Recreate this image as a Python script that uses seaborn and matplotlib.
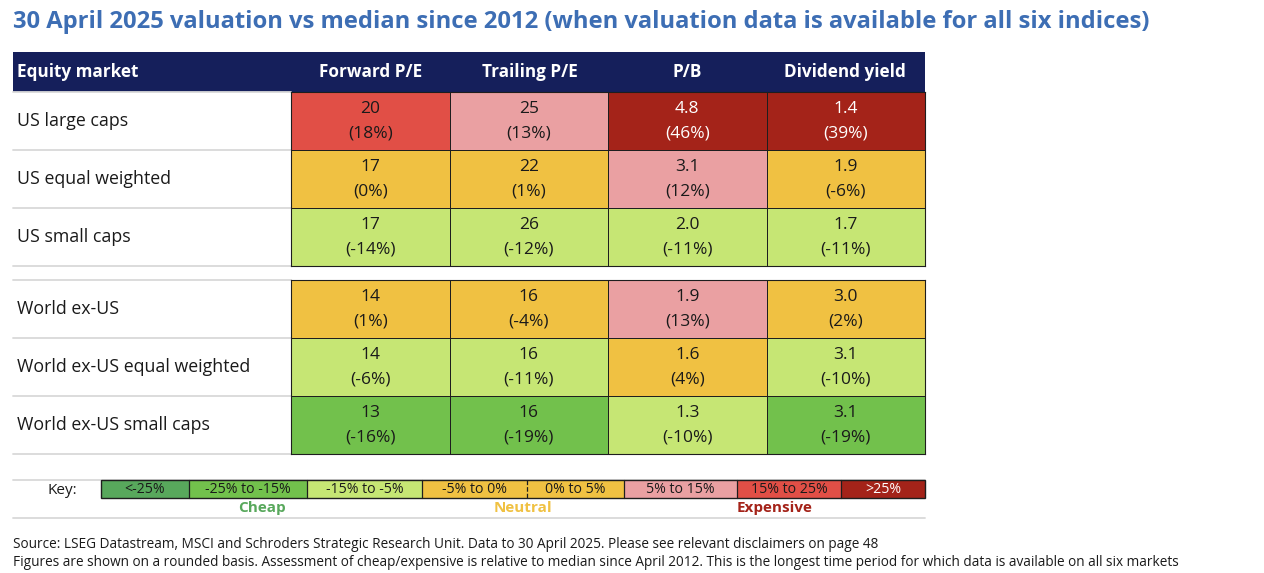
import numpy as np
import matplotlib
matplotlib.use("Agg")
import matplotlib.pyplot as plt
import seaborn as sns
from matplotlib.colors import ListedColormap
from matplotlib.patches import Rectangle

sns.set_theme(style="white")
plt.rcParams['font.family'] = ['Open Sans', 'DejaVu Sans']

# ---------------- data ----------------
title = "30 April 2025 valuation vs median since 2012 (when valuation data is available for all six indices)"
header_first = "Equity market"
metrics = ["Forward P/E", "Trailing P/E", "P/B", "Dividend yield"]

us_markets = ["US large caps", "US equal weighted", "US small caps"]
us_values = [["20", "25", "4.8", "1.4"],
             ["17", "22", "3.1", "1.9"],
             ["17", "26", "2.0", "1.7"]]
us_pct = [[18, 13, 46, 39],
          [0, 1, 12, -6],
          [-14, -12, -11, -11]]
us_band = [[6, 5, 7, 7],
           [4, 4, 5, 3],
           [2, 2, 2, 2]]

world_markets = ["World ex-US", "World ex-US equal weighted", "World ex-US small caps"]
world_values = [["14", "16", "1.9", "3.0"],
                ["14", "16", "1.6", "3.1"],
                ["13", "16", "1.3", "3.1"]]
world_pct = [[1, -4, 13, 2],
             [-6, -11, 4, -10],
             [-16, -19, -10, -19]]
world_band = [[4, 3, 5, 4],
              [2, 2, 4, 2],
              [1, 1, 2, 1]]

key_labels = ["<-25%", "-25% to -15%", "-15% to -5%", "-5% to 0%",
              "0% to 5%", "5% to 15%", "15% to 25%", ">25%"]
band_colors = ["#58a85c", "#72c14c", "#c6e674", "#f0c142",
               "#f0c142", "#eaa0a2", "#e14f46", "#a42319"]
groups = ["Cheap", "Neutral", "Expensive"]
group_colors = ["#58a85c", "#f0c142", "#a42319"]
source_lines = [
    "Source: LSEG Datastream, MSCI and Schroders Strategic Research Unit. Data to 30 April 2025. Please see relevant disclaimers on page 48",
    "Figures are shown on a rounded basis. Assessment of cheap/expensive is relative to median since April 2012. This is the longest time period for which data is available on all six markets",
]

# ---------------- layout ----------------
W, H = 1264, 573
fig = plt.figure(figsize=(W / 100, H / 100), dpi=100)
ov = fig.add_axes([0, 0, 1, 1])
ov.set_xlim(0, W)
ov.set_ylim(H, 0)
ov.axis("off")

TXT = "#1a1a1a"
NAVY = "#151f5b"
GREY = "#d9d9d9"
EDGE = "#1e1e1e"

def px_axes(x0, y0, x1, y1):
    return fig.add_axes([x0 / W, 1 - y1 / H, (x1 - x0) / W, (y1 - y0) / H])

# title
ov.text(13, 22, title, fontsize=17.1, fontweight="bold", color="#3d6eb4",
        ha="left", va="center")

# header
tab_x0, tab_x1 = 13, 925
col_edges = [291, 451, 609, 765, 925]
ov.add_patch(Rectangle((tab_x0, 52), tab_x1 - tab_x0, 40, color=NAVY, lw=0))
ov.text(17, 72, header_first, fontsize=12.3, fontweight="bold", color="white",
        ha="left", va="center")
for i, m in enumerate(metrics):
    cx = (col_edges[i] + col_edges[i + 1]) / 2
    ov.text(cx, 72, m, fontsize=12.3, fontweight="bold", color="white",
            ha="center", va="center")

# row labels and separators
blocks = [(us_markets, us_values, us_pct, us_band, 92),
          (world_markets, world_values, world_pct, world_band, 280)]
row_h = 58
for markets, values, pct, band, top in blocks:
    ov.plot([tab_x0, col_edges[0]], [top, top], color=GREY, lw=1.3)
    for r, name in enumerate(markets):
        yc = top + row_h * r + row_h / 2
        ov.text(17, yc, name, fontsize=12.8, color=TXT, ha="left", va="center")
        yb = top + row_h * (r + 1)
        ov.plot([tab_x0, col_edges[0]], [yb, yb], color=GREY, lw=1.3)

    ax = px_axes(col_edges[0], top, col_edges[-1], top + row_h * len(markets))
    annot = np.array([[f"{v}\n({p}%)" for v, p in zip(vr, pr)]
                      for vr, pr in zip(values, pct)])
    sns.heatmap(np.array(band), ax=ax, cmap=ListedColormap(band_colors),
                vmin=-0.5, vmax=7.5, annot=annot, fmt="", cbar=False,
                linewidths=0.7, linecolor=EDGE,
                annot_kws=dict(fontsize=12.5, linespacing=1.72, color=TXT),
                xticklabels=False, yticklabels=False)
    for t, b in zip(ax.texts, np.array(band).ravel()):
        t.set_color("white" if b == 7 else TXT)
    for s in ax.spines.values():
        s.set_visible(True)
        s.set_color(EDGE)
        s.set_linewidth(0.8)

# key
key_y0, key_y1 = 480, 498
key_edges = [101, 189, 307, 422, 527, 624, 737, 841, 925]
ov.plot([tab_x0, key_edges[-1]], [key_y0, key_y0], color=GREY, lw=1.3)
ov.plot([tab_x0, key_edges[-1]], [518, 518], color=GREY, lw=1.3)
lefts = key_edges[:-1]
widths = np.diff(key_edges)
ov.barh([(key_y0 + key_y1) / 2] * len(key_labels), widths, left=lefts,
        height=key_y1 - key_y0, color=band_colors, lw=0, zorder=3)
ov.add_patch(Rectangle((key_edges[0], key_y0), key_edges[-1] - key_edges[0],
                       key_y1 - key_y0, fill=False, ec=EDGE, lw=1.0, zorder=4))
for i, x in enumerate(key_edges[1:-1], start=1):
    ls = "--" if key_labels[i] == "0% to 5%" else "-"
    ov.plot([x, x], [key_y0, key_y1], color=EDGE, lw=0.9, ls=ls, zorder=4)
for i, lab in enumerate(key_labels):
    cx = (key_edges[i] + key_edges[i + 1]) / 2
    ov.text(cx, (key_y0 + key_y1) / 2 + 0.5, lab, fontsize=10.2,
            color="white" if i == len(key_labels) - 1 else TXT,
            ha="center", va="center", zorder=5)
ov.text(62, (key_y0 + key_y1) / 2 + 1, "Key:", fontsize=11, color=TXT,
        ha="center", va="center")
group_x = [262, 523, 775]
for g, gx, gc in zip(groups, group_x, group_colors):
    ov.text(gx, 508, g, fontsize=11, fontweight="bold", color=gc,
            ha="center", va="center")

# source
for i, line in enumerate(source_lines):
    ov.text(13, 545 + 17 * i, line, fontsize=9.8, color=TXT,
            ha="left", va="center")

fig.savefig("out.png", dpi=100)
